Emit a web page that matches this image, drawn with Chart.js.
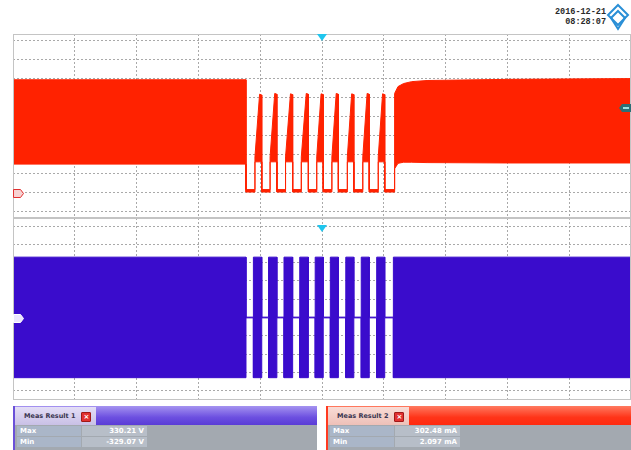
<!DOCTYPE html>
<html><head><meta charset="utf-8">
<script src="https://cdn.jsdelivr.net/npm/chart.js@4.4.1/dist/chart.umd.min.js"></script>
<style>
html,body{margin:0;padding:0;background:#fff;width:631px;height:450px;overflow:hidden;position:relative;font-family:'DejaVu Sans',sans-serif}
canvas{position:absolute;left:0}
#c1{top:30px}
#c2{top:214px}
.stamp{position:absolute;left:540px;width:66px;top:7px;font:bold 8.5px 'Liberation Mono',monospace;color:#2a2a2a;text-align:right;line-height:10px}
.logo{position:absolute;left:606px;top:3px}
.meas{position:absolute;top:406px;height:43px}
.hdr{position:relative;height:19px}
.tab{position:absolute;left:0;top:1px;height:18px;padding:0 0 0 9px;font:bold 6.5px 'DejaVu Sans',sans-serif;line-height:18px;color:#3a3550;white-space:nowrap}
.tab .x{display:inline-block;width:8px;height:8px;margin-left:6px;vertical-align:-1px;background:#e23030;border:1px solid #a01818;border-radius:1px;color:#fff;font-size:7px;line-height:8px;text-align:center}
.row{position:relative;height:11px;margin-top:0;font:bold 7px 'DejaVu Sans',sans-serif;line-height:11px;color:#fff}
.row .lab{position:absolute;left:2px;top:0;width:64px;height:10px;padding-left:3px;box-sizing:border-box}
.row .val{position:absolute;left:67px;top:0;width:65px;height:10px;text-align:right;padding-right:3px;box-sizing:border-box}
</style></head>
<body>
<canvas id="c1" width="631" height="192"></canvas>
<canvas id="c2" width="631" height="192"></canvas>
<div class="stamp" id="stamp"></div>
<svg class="logo" width="25" height="28" viewBox="0 0 25 28">
  <path d="M12 2 L22 12 L12 22 L2 12 Z" fill="none" stroke="#2a8fd6" stroke-width="2"/>
  <path d="M12 8 L19 15 L12 26 L5 15 Z" fill="none" stroke="#2a8fd6" stroke-width="2"/>
</svg>
<div class="meas" id="m1" style="left:13px;width:304px"></div>
<div class="meas" id="m2" style="left:326px;width:305px"></div>
<script>
// ---- time axis (ms, 10 ms/div) ----
const xTicks = [-50,-40,-30,-20,-10,0,10,20,30,40,50];
// ---- channel 2 (current, mA, 50 mA/div) ----
const redTicks = [-50,0,50,100,150,200,250,300,350,400];
const redTime = [-50,-12.3,-12.3,
  -10.85,-10.85,-10.1,-9.75,-9.75,
  -8.4,-8.4,-7.65,-7.3,-7.3,
  -5.9,-5.9,-5.1,-4.75,-4.75,
  -3.35,-3.35,-2.55,-2.2,-2.2,
  -0.85,-0.85,-0.15,0.2,0.2,
  1.6,1.6,2.3,2.65,2.65,
  4.1,4.1,4.8,5.15,5.15,
  6.6,6.6,7.3,7.65,7.65,
  9.1,9.1,9.8,10.15,10.15,
  11.75,11.75,12.3,13.2,14.5,17,30,50];
const redHigh = [298,298,9,
  9,95,260,258,9,
  9,95,262,260,9,
  9,95,261,259,9,
  9,95,262,260,9,
  9,95,261,259,9,
  9,95,262,260,9,
  9,95,261,259,9,
  9,95,262,260,9,
  9,95,261,259,9,
  9,262,280,288,293,296,299,301];
const redLow = [76,76,2.5,
  2.5,82,82,82,2.5,
  2.5,82,82,82,2.5,
  2.5,82,82,82,2.5,
  2.5,82,82,82,2.5,
  2.5,82,82,82,2.5,
  2.5,82,82,82,2.5,
  2.5,82,82,82,2.5,
  2.5,82,82,82,2.5,
  2.5,82,82,82,2.5,
  2.5,64,78,81,81,80,79,79];
const redMarks = {ground:0, trigLevel:224};
// ---- channel 1 (voltage, V, 100 V/div) ----
const blueTicks = [-400,-300,-200,-100,0,100,200,300,400,500];
const blueTime = [-50,-12.3,-12.3,
  -11.1,-11.1,-9.75,-9.75,
  -8.65,-8.65,-7.3,-7.3,
  -6.15,-6.15,-4.75,-4.75,
  -3.6,-3.6,-2.2,-2.2,
  -1.1,-1.1,0.2,0.2,
  1.35,1.35,2.65,2.65,
  3.85,3.85,5.15,5.15,
  6.35,6.35,7.65,7.65,
  8.85,8.85,10.15,10.15,
  11.55,11.55,50];
const blueHigh = [330,330,2,
  2,330,330,2, 2,330,330,2, 2,330,330,2,
  2,330,330,2, 2,330,330,2, 2,330,330,2,
  2,330,330,2, 2,330,330,2, 2,330,330,2,
  2,330,330];
const blueLow = [-329,-329,-2,
  -2,-329,-329,-2, -2,-329,-329,-2, -2,-329,-329,-2,
  -2,-329,-329,-2, -2,-329,-329,-2, -2,-329,-329,-2,
  -2,-329,-329,-2, -2,-329,-329,-2, -2,-329,-329,-2,
  -2,-329,-329];
const blueMarks = {ground:0};
// ---- texts ----
const stampLines = ['2016-12-21','08:28:07'];
const measTitles = ['Meas Result 1','Meas Result 2'];
const measLabels = ['Max','Min'];
const meas1Values = ['330.21 V','-329.07 V'];
const meas2Values = ['302.48 mA','2.097 mA'];

document.getElementById('stamp').innerHTML = stampLines.join('<br>');

function buildMeas(el, title, values, barBg, tabBg, edge){
  let h = '<div class="hdr" style="background:'+barBg+';border-left:2px solid '+edge+'">' +
    '<div class="tab" style="background:'+tabBg+'">'+title+'<span class="x">&#215;</span>&nbsp;&nbsp;</div></div>';
  h += '<div style="background:#a3a9b0;height:24px;padding-top:1px;border-left:2px solid '+edge+'">';
  measLabels.forEach((l,i)=>{
    h += '<div class="row"><span class="lab" style="background:#aab6c8">'+l+'</span><span class="val" style="background:#b7bec8">'+values[i]+'</span></div>';
  });
  h += '</div>';
  el.innerHTML = h;
}
buildMeas(document.getElementById('m1'), measTitles[0], meas1Values,
  'linear-gradient(#a593f0,#6c4fe0 60%,#5a3cd6)', 'linear-gradient(#e4def6,#c9c0e6)', '#6a50d8');
buildMeas(document.getElementById('m2'), measTitles[1], meas2Values,
  'linear-gradient(#ff7a60,#ff3418 60%,#ff2a10)', 'linear-gradient(#f8dcd6,#eec0b8)', '#ff3a20');

const markPlugin = {
  id:'marks',
  afterDatasetsDraw(chart, args, o){
    const {ctx, chartArea:a, scales:{x,y}} = chart;
    ctx.save();
    ctx.strokeStyle = '#c4c4c4'; ctx.lineWidth = 1;
    ctx.strokeRect(a.left+0.5, a.top+0.5, a.width-1, a.height-1);
    // trigger position
    const tx = x.getPixelForValue(0);
    ctx.fillStyle = '#20c6ee';
    ctx.beginPath(); ctx.moveTo(tx-5, a.top+o.triTop); ctx.lineTo(tx+5, a.top+o.triTop); ctx.lineTo(tx, a.top+o.triTop+7); ctx.closePath(); ctx.fill();
    // ground marker
    const gy = Math.round(y.getPixelForValue(o.ground));
    ctx.fillStyle = o.gFill; ctx.strokeStyle = o.gStroke;
    ctx.beginPath(); ctx.moveTo(a.left+0.5, gy-3.5); ctx.lineTo(a.left+7.5, gy-3.5); ctx.lineTo(a.left+10.5, gy+0.5);
    ctx.lineTo(a.left+7.5, gy+4.5); ctx.lineTo(a.left+0.5, gy+4.5); ctx.closePath(); ctx.fill(); ctx.stroke();
    if (o.trigLevel !== undefined) {
      const ty = Math.round(y.getPixelForValue(o.trigLevel));
      ctx.fillStyle = '#2b6f76';
      ctx.beginPath(); ctx.moveTo(a.right, ty-4); ctx.lineTo(a.right-9, ty-4); ctx.lineTo(a.right-12, ty); ctx.lineTo(a.right-9, ty+4); ctx.lineTo(a.right, ty+4); ctx.closePath(); ctx.fill();
      ctx.fillStyle = '#9fe0e0'; ctx.fillRect(a.right-8, ty-1, 6, 2);
    }
    ctx.restore();
  }
};

function pts(t, v){ return t.map((xv,i)=>({x:xv, y:v[i]})); }
function panel(id, color, time, hi, lo, yMin, yMax, yTicks, pad, marks){
  const gridOpts = {color:'#a9a9a9', drawTicks:false, lineWidth:1};
  return new Chart(document.getElementById(id), {
    type:'line',
    data:{datasets:[
      {data:pts(time,hi), borderColor:color, backgroundColor:color, borderWidth:1, pointRadius:0, fill:false, tension:0},
      {data:pts(time,lo), borderColor:color, backgroundColor:color, borderWidth:1, pointRadius:0, fill:'-1', tension:0}
    ]},
    options:{
      responsive:false, animation:false, events:[],
      layout:{padding:pad, autoPadding:false},
      plugins:{legend:{display:false}, tooltip:{enabled:false}, marks:marks},
      scales:{
        x:{type:'linear', min:-50, max:50, afterBuildTicks:s=>{s.ticks = xTicks.map(v=>({value:v}));}, afterFit:s=>{s.height=0;},
           ticks:{display:false}, grid:gridOpts, border:{display:false, dash:[2,2]}},
        y:{type:'linear', min:yMin, max:yMax, afterBuildTicks:s=>{s.ticks = yTicks.map(v=>({value:v}));}, afterFit:s=>{s.width=0;},
           ticks:{display:false}, grid:gridOpts, border:{display:false, dash:[2,2]}}
      }
    },
    plugins:[markPlugin]
  });
}
panel('c1', '#ff2200', redTime, redHigh, redLow, -65.8, 418.4, redTicks,
  {left:13, right:0, top:4, bottom:4},
  {ground:redMarks.ground, trigLevel:redMarks.trigLevel, triTop:0, gFill:'#f7d2d2', gStroke:'#e03030'});
panel('c2', '#3a0ccc', blueTime, blueHigh, blueLow, -451, 544, blueTicks,
  {left:13, right:0, top:4, bottom:6},
  {ground:blueMarks.ground, triTop:7, gFill:'#ece6ff', gStroke:'#ffffff'});
</script>
</body></html>
